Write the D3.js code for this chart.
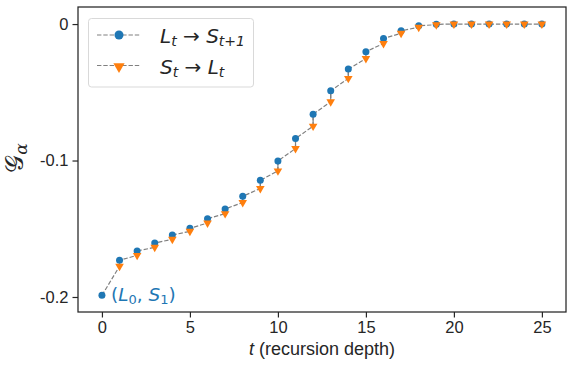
<!DOCTYPE html>
<meta charset="utf-8">
<style>
    body { margin: 0; background: #fff; }
    text { fill: #262626; }
    .tick text { font-family: "Liberation Sans", Arial, sans-serif; font-size: 16.5px; }
</style>
<svg width="574" height="368"></svg>
<script src="https://d3js.org/d3.v7.min.js"></script>
<script>

    // recursion depth
    var depths = d3.range(0, 26);
    // L_t -> S_{t+1}, t = 0..25
    var listenerVals = [-0.1988, -0.1731, -0.1663, -0.1605, -0.1546, -0.1497, -0.1426, -0.1355, -0.1262, -0.1145,
        -0.1003, -0.0839, -0.0660, -0.0489, -0.0330, -0.0203, -0.0105, -0.0049, -0.0012, -0.0002,
        0, 0, 0, 0, 0, 0];
    // S_t -> L_t, t = 1..25
    var speakerVals = [null, -0.1775, -0.1695, -0.1636, -0.1577, -0.1519, -0.1458, -0.1389, -0.1308, -0.1205,
        -0.1076, -0.0912, -0.0748, -0.0570, -0.0398, -0.0252, -0.0142, -0.0068, -0.0024, -0.0005,
        0, 0, 0, 0, 0, 0];
    var xTicks = [0, 5, 10, 15, 20, 25];
    var yTicks = [0, -0.1, -0.2];
    var yTickLabels = ["0", "-0.1", "-0.2"];

    var svg = d3.select("svg");
    var blue = "#1f77b4", orange = "#ff7f0e", dark = "#262626";

    var x = d3.scaleLinear().domain([-1.36, 26.37]).range([78, 566]);
    var y = d3.scaleLinear().domain([-0.211, 0.0125]).range([312, 7]);

    // axes
    svg.append("g")
        .attr("transform", "translate(0," + y.range()[0] + ")")
        .call(d3.axisBottom(x).tickValues(xTicks).tickSize(5.5).tickPadding(4).tickFormat(d3.format("d")))
        .call(function(g) { g.select(".domain").remove(); });

    svg.append("g")
        .attr("transform", "translate(" + x.range()[0] + ",0)")
        .call(d3.axisLeft(y).tickValues(yTicks).tickSize(5.5).tickPadding(4)
            .tickFormat(function(d, i) { return yTickLabels[i]; }))
        .call(function(g) { g.select(".domain").remove(); });

    svg.selectAll(".tick line").attr("stroke", dark).attr("stroke-width", 1.2);
    svg.selectAll(".tick text").attr("fill", dark);

    // frame
    svg.append("rect")
        .attr("x", x.range()[0])
        .attr("y", y.range()[1])
        .attr("width", x.range()[1] - x.range()[0])
        .attr("height", y.range()[0] - y.range()[1])
        .attr("fill", "none")
        .attr("stroke", dark)
        .attr("stroke-width", 1.25);

    // dashed path: L_t -> S_{t+1} -> L_{t+1} ...
    var seq = [];
    depths.forEach(function(t) {
        if (speakerVals[t] !== null) seq.push([t, speakerVals[t]]);
        seq.push([t, listenerVals[t]]);
    });

    var line = d3.line()
        .x(function(d) { return x(d[0]); })
        .y(function(d) { return y(d[1]); });

    svg.append("path")
        .datum(seq)
        .attr("d", line)
        .attr("fill", "none")
        .attr("stroke", "#808080")
        .attr("stroke-width", 1.2)
        .attr("stroke-dasharray", "4.4,1.9");

    // solid links between same-depth pair
    svg.append("g").selectAll("line")
        .data(depths.filter(function(t) { return speakerVals[t] !== null; }))
        .enter()
        .append("line")
        .attr("x1", function(t) { return x(t); })
        .attr("x2", function(t) { return x(t); })
        .attr("y1", function(t) { return y(listenerVals[t]); })
        .attr("y2", function(t) { return y(speakerVals[t]); })
        .attr("stroke", "#808080")
        .attr("stroke-width", 1.2);

    var tri = d3.symbol().type(d3.symbolTriangle).size(32);

    svg.append("g").selectAll("circle")
        .data(depths)
        .enter()
        .append("circle")
        .attr("cx", function(t) { return x(t); })
        .attr("cy", function(t) { return y(listenerVals[t]); })
        .attr("r", 3.5)
        .attr("fill", blue);

    svg.append("g").selectAll("path")
        .data(depths.filter(function(t) { return speakerVals[t] !== null; }))
        .enter()
        .append("path")
        .attr("d", tri)
        .attr("transform", function(t) {
            return "translate(" + x(t) + "," + y(speakerVals[t]) + ") rotate(180)";
        })
        .attr("fill", orange);

    // annotation
    var ann = svg.append("text")
        .attr("x", x(0) + 9)
        .attr("y", y(listenerVals[0]) + 6)
        .attr("font-family", "DejaVu Sans")
        .attr("font-size", 18.5)
        .style("fill", blue);
    ann.append("tspan").text("(");
    ann.append("tspan").attr("font-style", "italic").text("L");
    ann.append("tspan").attr("font-size", 13).attr("dy", 3).text("0");
    ann.append("tspan").attr("dy", -3).text(", ");
    ann.append("tspan").attr("font-style", "italic").text("S");
    ann.append("tspan").attr("font-size", 13).attr("dy", 3).text("1");
    ann.append("tspan").attr("dy", -3).text(")");

    // legend
    var lg = svg.append("g");
    lg.append("rect")
        .attr("x", 88.5).attr("y", 18.5)
        .attr("width", 165).attr("height", 68.5)
        .attr("rx", 3)
        .attr("fill", "#fff")
        .attr("stroke", "#d9d9d9")
        .attr("stroke-width", 1);

    var rows = [
        { y: 35, marker: "circle", a: "L", as: "t", b: "S", bs: "t+1" },
        { y: 65.5, marker: "tri", a: "S", as: "t", b: "L", bs: "t" }
    ];
    rows.forEach(function(r) {
        lg.append("line")
            .attr("x1", 97).attr("x2", 141)
            .attr("y1", r.y).attr("y2", r.y)
            .attr("stroke", "#808080").attr("stroke-width", 1.2)
            .attr("stroke-dasharray", "4.4,1.9");
        if (r.marker === "circle") {
            lg.append("circle").attr("cx", 119).attr("cy", r.y).attr("r", 4.5).attr("fill", blue);
        } else {
            lg.append("path")
                .attr("d", d3.symbol().type(d3.symbolTriangle).size(55))
                .attr("transform", "translate(119," + (r.y + 1) + ") rotate(180)")
                .attr("fill", orange);
        }
        var t = lg.append("text")
            .attr("x", 160).attr("y", r.y + 8)
            .attr("font-family", "DejaVu Sans")
            .attr("font-size", 20);
        t.append("tspan").attr("font-style", "italic").text(r.a);
        t.append("tspan").attr("font-style", "italic").attr("font-size", 14).attr("dy", 3).text(r.as);
        t.append("tspan").attr("dy", -3).text(" \u2192 ");
        t.append("tspan").attr("font-style", "italic").text(r.b);
        t.append("tspan").attr("font-style", "italic").attr("font-size", 14).attr("dy", 3).text(r.bs);
    });

    // axis labels
    var xl = svg.append("text")
        .attr("x", 322).attr("y", 355)
        .attr("text-anchor", "middle")
        .attr("font-family", "Liberation Sans, Arial, sans-serif")
        .attr("font-size", 18);
    xl.append("tspan").attr("font-style", "italic").text("t");
    xl.append("tspan").text(" (recursion depth)");

    var yl = svg.append("text")
        .attr("transform", "translate(23,158) rotate(-90)")
        .attr("text-anchor", "middle")
        .attr("font-family", "DejaVu Serif, DejaVu Sans, serif")
        .attr("font-size", 25);
    yl.append("tspan").text("\uD835\uDCA2");
    yl.append("tspan").attr("font-size", 17).attr("dy", 4).attr("font-style", "italic").text("\u03B1");

</script>
